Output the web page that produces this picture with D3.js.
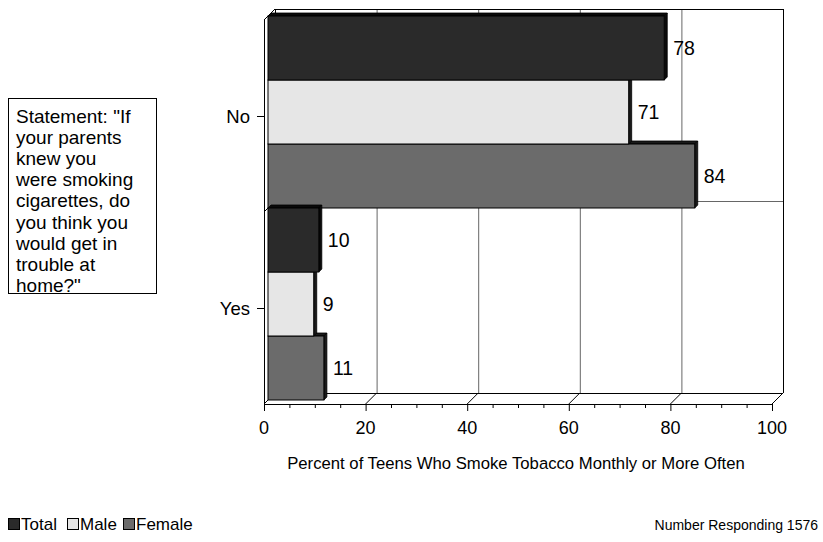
<!DOCTYPE html>
<html><head><meta charset="utf-8">
<script src="https://cdn.jsdelivr.net/npm/d3@7"></script>
<style>body{margin:0;background:#fff}svg{display:block;font-family:"Liberation Sans",Arial,sans-serif}</style>
</head><body>
<script>
const categories = ["No", "Yes"];
const seriesNames = ["Total", "Male", "Female"];
const totalValues = [78, 10];
const maleValues = [71, 9];
const femaleValues = [84, 11];
const xTicks = [0, 20, 40, 60, 80, 100];
const statementLines = ["Statement: \"If", "your parents", "knew you", "were smoking", "cigarettes, do", "you think you", "would get in", "trouble at", "home?\""];
const axisTitle = "Percent of Teens Who Smoke Tobacco Monthly or More Often";
const footnote = "Number Responding 1576";

const seriesValues = [totalValues, maleValues, femaleValues];
const colors = ["#2a2a2a", "#e6e6e6", "#6b6b6b"];
const sideColors = ["#0a0a0a", "#1a1a1a", "#1a1a1a"];

const W = 823, H = 542;
const svg = d3.select("body").append("svg").attr("width", W).attr("height", H);

const D = 11; // wall depth
const x = d3.scaleLinear().domain([0, 100]).range([264, 772]);
const y = d3.scaleBand().domain(categories).range([20, 404]).paddingInner(0).paddingOuter(0);
const ys = d3.scaleBand().domain(seriesNames).range([0, y.bandwidth()]);

const line = (x1, y1, x2, y2, c = "#000", w = 1) =>
  svg.append("line").attr("x1", x1).attr("y1", y1).attr("x2", x2).attr("y2", y2)
    .attr("stroke", c).attr("stroke-width", w);

// Back wall
svg.append("rect").attr("x", x(0) + D).attr("y", 20 - D).attr("width", x(100) - x(0)).attr("height", 384)
  .attr("fill", "#fff");
xTicks.slice(1, -1).forEach(t => line(x(t) + D + 0.5, 20 - D, x(t) + D + 0.5, 404 - D, "#666"));
line(x(0) + D, 20 - D + 0.5, x(100) + D, 20 - D + 0.5, "#000");
line(x(100) + D + 0.5, 20 - D, x(100) + D + 0.5, 404 - D, "#000");
const midY = y(categories[1]);
line(x(0) + D, midY - D + 0.5, x(100) + D, midY - D + 0.5, "#666");
line(x(0), midY, x(0) + D, midY - D, "#000");
// floor
line(x(0) + D, 404 - D + 0.5, x(100) + D, 404 - D + 0.5, "#000");
xTicks.forEach(t => line(x(t), 404, x(t) + D, 404 - D, "#000"));
// left wall
line(x(0), 20, x(0) + D, 20 - D, "#000");
line(x(0) + D + 0.5, 20 - D, x(0) + D + 0.5, 404 - D, "#000");

// Bars (3D boxes)
const d1 = 4, d2 = 7;
const bars = svg.append("g");
categories.forEach((cat, ci) => {
  for (let si = seriesNames.length - 1; si >= 0; si--) {
    const v = seriesValues[si][ci];
    const yt = y(cat) + ys(seriesNames[si]);
    const h = ys.bandwidth();
    const x0 = x(0), x1 = x(v);
    const g = bars.append("g");
    g.append("polygon").attr("points", [[x0 + d1, yt - d1], [x0 + d2, yt - d2], [x1 + d2, yt - d2], [x1 + d1, yt - d1]].join(" "))
      .attr("fill", sideColors[si]).attr("stroke", "#000").attr("stroke-width", 0.8);
    g.append("polygon").attr("points", [[x1 + d1, yt - d1], [x1 + d2, yt - d2], [x1 + d2, yt + h - d2], [x1 + d1, yt + h - d1]].join(" "))
      .attr("fill", sideColors[si]).attr("stroke", "#000").attr("stroke-width", 0.8);
    g.append("rect").attr("x", x0 + d1).attr("y", yt - d1).attr("width", x1 - x0).attr("height", h)
      .attr("fill", colors[si]).attr("stroke", "#000").attr("stroke-width", 1);
  }
});

// front wall edges over bars
line(x(0) + 0.5, 20, x(0) + 0.5, 411, "#000");
line(x(0), 404.5, x(100), 404.5, "#000");
line(x(0), 404, x(0) + d1, 404 - d1, "#000");

// value labels
categories.forEach((cat, ci) => {
  seriesNames.forEach((s, si) => {
    const v = seriesValues[si][ci];
    svg.append("text").attr("x", x(v) + 13).attr("y", y(cat) + ys(s) + ys.bandwidth() / 2 - d1)
      .attr("dy", "0.36em").attr("font-size", 19.5).text(v);
  });
});

// x axis ticks
d3.range(0, 101, 5).forEach(t => {
  const major = t % 20 === 0;
  line(x(t) + 0.5, 404, x(t) + 0.5, major ? 411 : 408, "#000");
});
xTicks.forEach(t => {
  svg.append("text").attr("x", x(t)).attr("y", 434).attr("text-anchor", "middle")
    .attr("font-size", 18).text(t);
});
svg.append("text").attr("x", 516).attr("y", 469).attr("text-anchor", "middle")
  .attr("font-size", 16.7).text(axisTitle);

// y axis ticks & labels
categories.forEach(cat => {
  const cy = y(cat) + y.bandwidth() / 2;
  line(257, cy + 0.5, 264, cy + 0.5, "#000");
  svg.append("text").attr("x", 250).attr("y", cy).attr("dy", "0.36em").attr("text-anchor", "end")
    .attr("font-size", 18.5).text(cat);
});

// statement box
svg.append("rect").attr("x", 8.5).attr("y", 98.5).attr("width", 148).attr("height", 195)
  .attr("fill", "#fff").attr("stroke", "#000");
statementLines.forEach((t, i) => {
  svg.append("text").attr("x", 16).attr("y", 123 + i * 21.1).attr("font-size", 19).text(t);
});

// legend
const legX = [8, 67, 123];
seriesNames.forEach((s, i) => {
  svg.append("rect").attr("x", legX[i] + 0.5).attr("y", 518.5).attr("width", 11).attr("height", 11)
    .attr("fill", colors[i]).attr("stroke", "#000");
  svg.append("text").attr("x", legX[i] + 13).attr("y", 530).attr("font-size", 17).text(s);
});
svg.append("text").attr("x", 818).attr("y", 530).attr("text-anchor", "end").attr("font-size", 14).text(footnote);
</script>
</body></html>
